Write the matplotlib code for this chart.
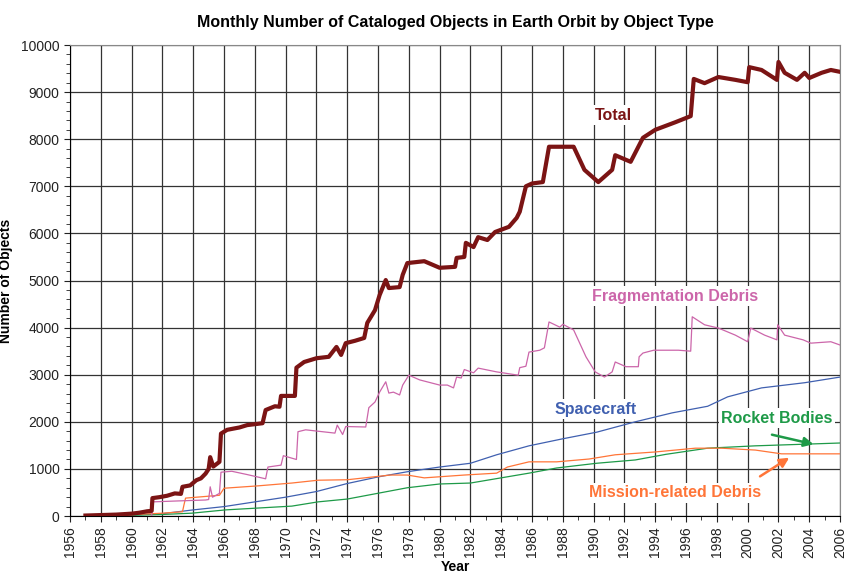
import matplotlib
matplotlib.use('Agg')
import matplotlib.pyplot as plt
from matplotlib.ticker import MultipleLocator

plt.rcParams['font.family'] = ['Liberation Sans', 'DejaVu Sans']

# (year, count) breakpoints
total_years = [1957.0, 1958, 1959, 1960, 1960.5, 1961, 1961.3, 1961.35, 1961.8, 1962.3, 1962.8, 1963.2,
               1963.3, 1963.8, 1964.2, 1964.5, 1964.8, 1965.0, 1965.1, 1965.3, 1965.5, 1965.7, 1965.8,
               1966.2, 1967, 1967.5, 1968, 1968.5, 1968.7, 1969.3, 1969.6, 1969.7, 1970.2, 1970.6,
               1970.7, 1971.2, 1972, 1972.8, 1973.3, 1973.6, 1973.9, 1974.5, 1975.1, 1975.3, 1975.8,
               1976.1, 1976.5, 1976.7, 1977.4, 1977.6, 1977.9, 1979, 1980, 1981, 1981.1, 1981.6,
               1981.7, 1982.2, 1982.5, 1983.1, 1983.6, 1984.5, 1985.0, 1985.2, 1985.6, 1986, 1986.7,
               1987.1, 1988, 1988.7, 1989.4, 1990.3, 1991.2, 1991.4, 1992.4, 1993.2, 1994, 1995.3,
               1996.3, 1996.5, 1997.2, 1998.1, 1999.2, 2000, 2000.1, 2000.9, 2001.9, 2002, 2002.4,
               2003.2, 2003.7, 2004, 2004.8, 2005.4, 2006]
total_vals = [10, 20, 30, 50, 70, 100, 110, 380, 400, 430, 480, 470,
              620, 650, 760, 800, 900, 1000, 1250, 1050, 1100, 1150, 1750,
              1830, 1880, 1930, 1950, 1970, 2250, 2330, 2320, 2550, 2550, 2550,
              3150, 3270, 3350, 3380, 3590, 3420, 3670, 3720, 3780, 4100, 4370,
              4690, 5010, 4840, 4860, 5120, 5370, 5410, 5270, 5290, 5480, 5500,
              5800, 5710, 5920, 5860, 6030, 6140, 6330, 6460, 7000, 7060, 7090,
              7840, 7840, 7840, 7350, 7090, 7350, 7660, 7520, 8030, 8200, 8360,
              8490, 9280, 9190, 9320, 9260, 9210, 9530, 9470, 9260, 9640, 9410,
              9260, 9410, 9300, 9410, 9470, 9430]

frag_years = [1961.3, 1961.35, 1963, 1964.8, 1965.0, 1965.1, 1965.25, 1965.7, 1965.8, 1966.5, 1967.5,
              1968.7, 1968.85, 1969.7, 1969.85, 1970.7, 1970.8, 1971.3, 1973.2, 1973.35, 1973.7,
              1973.9, 1975.2, 1975.4, 1975.8, 1976.1, 1976.5, 1976.7, 1977, 1977.4, 1977.6, 1978,
              1978.7, 1980, 1980.5, 1980.9, 1981.1, 1981.4, 1981.6, 1982.2, 1982.5, 1983.7, 1985.1,
              1985.2, 1985.6, 1985.8, 1986.5, 1986.8, 1987.1, 1987.8, 1988, 1988.7, 1989.5, 1990.1,
              1990.7, 1991.2, 1991.4, 1992.1, 1992.9, 1992.95, 1993.2, 1993.9, 1995.5, 1996.3,
              1996.4, 1997.2, 1998.1, 1999.2, 2000, 2000.2, 2001.1, 2001.9, 2001.95, 2002.4,
              2003.6, 2004.1, 2005.4, 2006]
frag_vals = [0, 300, 320, 340, 350, 620, 400, 480, 930, 950, 880,
             790, 1040, 1080, 1280, 1200, 1790, 1830, 1760, 1930, 1730,
             1900, 1890, 2300, 2420, 2630, 2850, 2610, 2630, 2570, 2780, 2990,
             2890, 2780, 2780, 2720, 2950, 2930, 3110, 3040, 3140, 3060, 2990,
             3150, 3180, 3480, 3520, 3570, 4120, 4010, 4070, 3950, 3380, 3060,
             2950, 3060, 3270, 3170, 3170, 3380, 3460, 3520, 3520, 3500,
             4230, 4060, 3990, 3840, 3700, 3990, 3840, 3740, 4060, 3840,
             3740, 3670, 3700, 3630]

sc_years = [1957.8, 1960, 1962, 1964, 1966, 1968, 1970, 1972, 1974, 1976, 1977.9, 1980, 1982,
            1983.7, 1985.8, 1988, 1990.2, 1992.7, 1995.1, 1997.4, 1998.7, 2000.9, 2003.7, 2006]
sc_vals = [0, 20, 50, 130, 200, 300, 400, 520, 690, 830, 940, 1040, 1120,
           1300, 1490, 1640, 1780, 2000, 2190, 2330, 2530, 2720, 2830, 2950]

rb_years = [1958, 1961.8, 1963.9, 1966.1, 1970.4, 1972.1, 1974, 1977.9, 1980, 1982, 1985.8,
            1987.6, 1990.2, 1992.7, 1994.7, 1997.4, 2000.5, 2006]
rb_vals = [0, 30, 60, 130, 210, 300, 360, 600, 680, 700, 910,
           1020, 1120, 1190, 1310, 1440, 1490, 1550]

md_years = [1958.5, 1960, 1962, 1963.3, 1963.4, 1963.5, 1965.7, 1966, 1968.2, 1970.4, 1972.1, 1974,
            1976.8, 1977.9, 1979, 1981.6, 1983.7, 1984.4, 1985.8, 1987.6, 1989.7, 1991.4, 1994,
            1996.6, 1998.3, 2000.5, 2002.2, 2006]
md_vals = [0, 30, 60, 90, 240, 380, 440, 590, 640, 700, 760, 770,
           870, 870, 810, 870, 910, 1040, 1150, 1150, 1210, 1300, 1360,
           1440, 1440, 1400, 1320, 1320]

c_total = '#7B1414'
c_frag = '#CC66AA'
c_sc = '#4060B0'
c_rb = '#1E9A48'
c_md = '#FF7538'

fig = plt.figure(figsize=(8.49, 5.77), dpi=100)
ax = fig.add_axes([0.0825, 0.1057, 0.907, 0.8163])

ax.plot(sc_years, sc_vals, color=c_sc, lw=0.9, zorder=3)
ax.plot(rb_years, rb_vals, color=c_rb, lw=0.9, zorder=3)
ax.plot(md_years, md_vals, color=c_md, lw=0.9, zorder=3)
ax.plot(frag_years, frag_vals, color=c_frag, lw=0.9, zorder=3)
ax.plot(total_years, total_vals, color=c_total, lw=3.0, zorder=4)

ax.set_xlim(1956, 2006)
ax.set_ylim(0, 10000)
ax.xaxis.set_major_locator(MultipleLocator(2))
ax.xaxis.set_minor_locator(MultipleLocator(1))
ax.yaxis.set_major_locator(MultipleLocator(1000))
ax.yaxis.set_minor_locator(MultipleLocator(200))
ax.tick_params(axis='both', which='both', direction='out', colors='#222222', labelsize=10)
ax.tick_params(axis='both', which='major', length=4)
ax.tick_params(axis='both', which='minor', length=3)
ax.tick_params(axis='x', labelrotation=90)
ax.grid(True, which='major', color='#333333', lw=0.9)
for side in ['top', 'right']:
    ax.spines[side].set_color('#888888')

ax.set_title('Monthly Number of Cataloged Objects in Earth Orbit by Object Type',
             fontsize=11.5, fontweight='bold', pad=13)
ax.set_xlabel('Year', fontsize=10, fontweight='bold', labelpad=2)
ax.set_ylabel('Number of Objects', fontsize=10, fontweight='bold', labelpad=6)

box = dict(facecolor='white', edgecolor='none', pad=2)
lbl = dict(fontsize=11.5, fontweight='bold', ha='center', va='center', bbox=box, zorder=5)
ax.text(1991.3, 8510, 'Total', color=c_total, **lbl)
ax.text(1995.3, 4670, 'Fragmentation Debris', color=c_frag, **lbl)
ax.text(1990.15, 2270, 'Spacecraft', color=c_sc, **lbl)
ax.text(2001.9, 2080, 'Rocket Bodies', color=c_rb, **lbl)
ax.text(1995.3, 490, 'Mission-related Debris', color=c_md, **lbl)

ax.annotate('', xy=(2004.45, 1510), xytext=(2001.4, 1740),
            arrowprops=dict(arrowstyle='-|>', color=c_rb, lw=1.8, mutation_scale=14), zorder=6)
ax.annotate('', xy=(2002.85, 1270), xytext=(2000.65, 810),
            arrowprops=dict(arrowstyle='-|>', color=c_md, lw=1.8, mutation_scale=14), zorder=6)

fig.savefig('out.png', dpi=100)
